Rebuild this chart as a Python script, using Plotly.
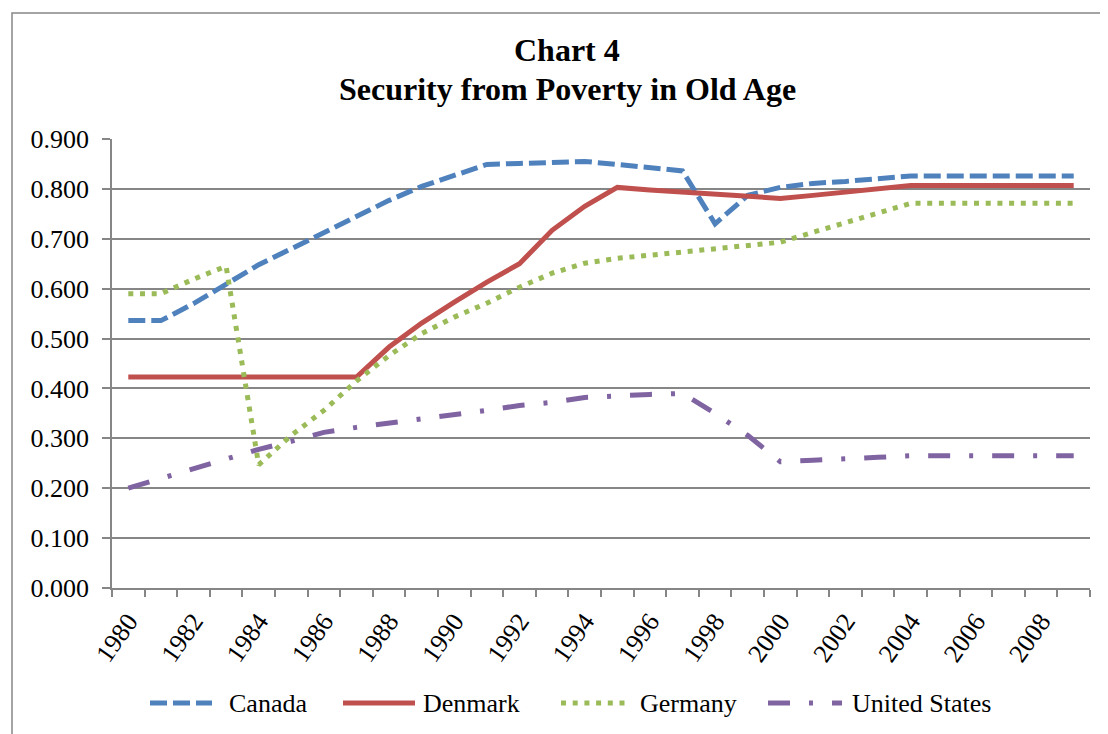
import plotly.graph_objects as go

years = list(range(1980, 2010))
canada = [0.536, 0.536, 0.570, 0.610, 0.648, 0.680, 0.713, 0.746, 0.777, 0.805,
          0.828, 0.849, 0.851, 0.853, 0.855, 0.849, 0.843, 0.836, 0.730, 0.787,
          0.803, 0.811, 0.815, 0.821, 0.826, 0.826, 0.826, 0.826, 0.826, 0.826]
denmark = [0.423, 0.423, 0.423, 0.423, 0.423, 0.423, 0.423, 0.423, 0.483, 0.531,
           0.573, 0.613, 0.650, 0.717, 0.765, 0.803, 0.798, 0.794, 0.789, 0.785,
           0.781, 0.787, 0.794, 0.800, 0.807, 0.807, 0.807, 0.807, 0.807, 0.807]
germany = [0.590, 0.590, 0.619, 0.645, 0.247, 0.306, 0.356, 0.415, 0.466, 0.510,
           0.543, 0.571, 0.603, 0.631, 0.651, 0.661, 0.667, 0.673, 0.680, 0.687,
           0.693, 0.713, 0.733, 0.753, 0.771, 0.771, 0.771, 0.771, 0.771, 0.771]
united_states = [0.200, 0.220, 0.238, 0.258, 0.278, 0.294, 0.312, 0.322, 0.330, 0.340,
                 0.346, 0.356, 0.366, 0.372, 0.382, 0.386, 0.388, 0.390, 0.350, 0.306,
                 0.253, 0.256, 0.260, 0.262, 0.265, 0.265, 0.265, 0.265, 0.265, 0.265]

series_names = ["Canada", "Denmark", "Germany", "United States"]
series_values = [canada, denmark, germany, united_states]
colors = ["#4F81BD", "#C0504D", "#9BBB59", "#8064A2"]
dashes = ["17px,6px", "solid", "5px,6.7px", "22px,19px,4px,19px"]
y_ticks = [0.0, 0.1, 0.2, 0.3, 0.4, 0.5, 0.6, 0.7, 0.8, 0.9]
x_tick_years = list(range(1980, 2010, 2))

FONT = "Liberation Serif, Times New Roman, serif"
GRID = "#868686"

OFF = 8  # page body margin
W, H = 1108 - OFF, 734 - OFF
PLOT_L, PLOT_R, PLOT_T, PLOT_B = 112, 1090, 139, 588  # page pixel coords
L = PLOT_L - OFF
T = PLOT_T - OFF
R = W - (PLOT_R - OFF)
B = H - (PLOT_B - OFF)
PW = PLOT_R - PLOT_L
PH = PLOT_B - PLOT_T


def px(x):
    return (x - PLOT_L) / PW


def py(y):
    return (PLOT_B - y) / PH


fig = go.Figure()
for name, vals, c, d in zip(series_names, series_values, colors, dashes):
    fig.add_trace(go.Scatter(
        x=years, y=vals, name=name, mode="lines",
        line=dict(color=c, width=5, dash=d),
        showlegend=False,
    ))

shapes = []
annotations = []

# outer chart border
shapes.append(dict(type="rect", xref="paper", yref="paper",
                   x0=px(12), x1=px(1130), y0=py(760), y1=py(13),
                   line=dict(color=GRID, width=1.5), layer="below"))

# title
annotations.append(dict(text="<b>Chart 4</b>", xref="paper", yref="paper",
                        x=px(567), y=py(50), xanchor="center", yanchor="middle",
                        showarrow=False, font=dict(family=FONT, size=32, color="black")))
annotations.append(dict(text="<b>Security from Poverty in Old Age</b>", xref="paper", yref="paper",
                        x=px(567), y=py(89), xanchor="center", yanchor="middle",
                        showarrow=False, font=dict(family=FONT, size=32, color="black")))

# custom legend
leg_y = 703
leg_items = [(150, 212, 227), (343, 415, 421), (561, 627, 638), (768, 842, 850)]
for (x0, x1, tx), name, c, d in zip(leg_items, series_names, colors, dashes):
    shapes.append(dict(type="line", xref="paper", yref="paper",
                       x0=px(x0), x1=px(x1), y0=py(leg_y), y1=py(leg_y),
                       line=dict(color=c, width=5, dash=d)))
    annotations.append(dict(text=name, xref="paper", yref="paper",
                            x=px(tx), y=py(leg_y), xanchor="left", yanchor="middle",
                            showarrow=False, font=dict(family=FONT, size=26, color="black")))

fig.update_layout(
    width=W, height=H,
    margin=dict(l=L, r=R, t=T, b=B, pad=0),
    paper_bgcolor="white", plot_bgcolor="white",
    font=dict(family=FONT, color="black"),
    shapes=shapes, annotations=annotations,
    xaxis=dict(
        range=[1979.5, 2009.5], tickmode="array", tickvals=x_tick_years,
        ticktext=[str(y) for y in x_tick_years],
        tickangle=-55, ticks="", showgrid=False, zeroline=False,
        ticklabelstandoff=6,
        showline=True, linecolor=GRID, linewidth=1.5,
        tickfont=dict(family=FONT, size=26, color="black"),
        minor=dict(tickmode="linear", tick0=1979.5, dtick=1, ticks="outside",
                   ticklen=7, tickcolor=GRID, tickwidth=1.5, showgrid=False),
    ),
    yaxis=dict(
        range=[0, 0.9], tickmode="array", tickvals=y_ticks,
        tickformat=".3f", ticks="outside", ticklen=8, tickcolor=GRID, tickwidth=1.5,
        ticklabelstandoff=8,
        showgrid=True, gridcolor=GRID, gridwidth=1.5, zeroline=False,
        showline=True, linecolor=GRID, linewidth=1.5,
        tickfont=dict(family=FONT, size=26, color="black"),
    ),
)

fig.write_html("out.html")
